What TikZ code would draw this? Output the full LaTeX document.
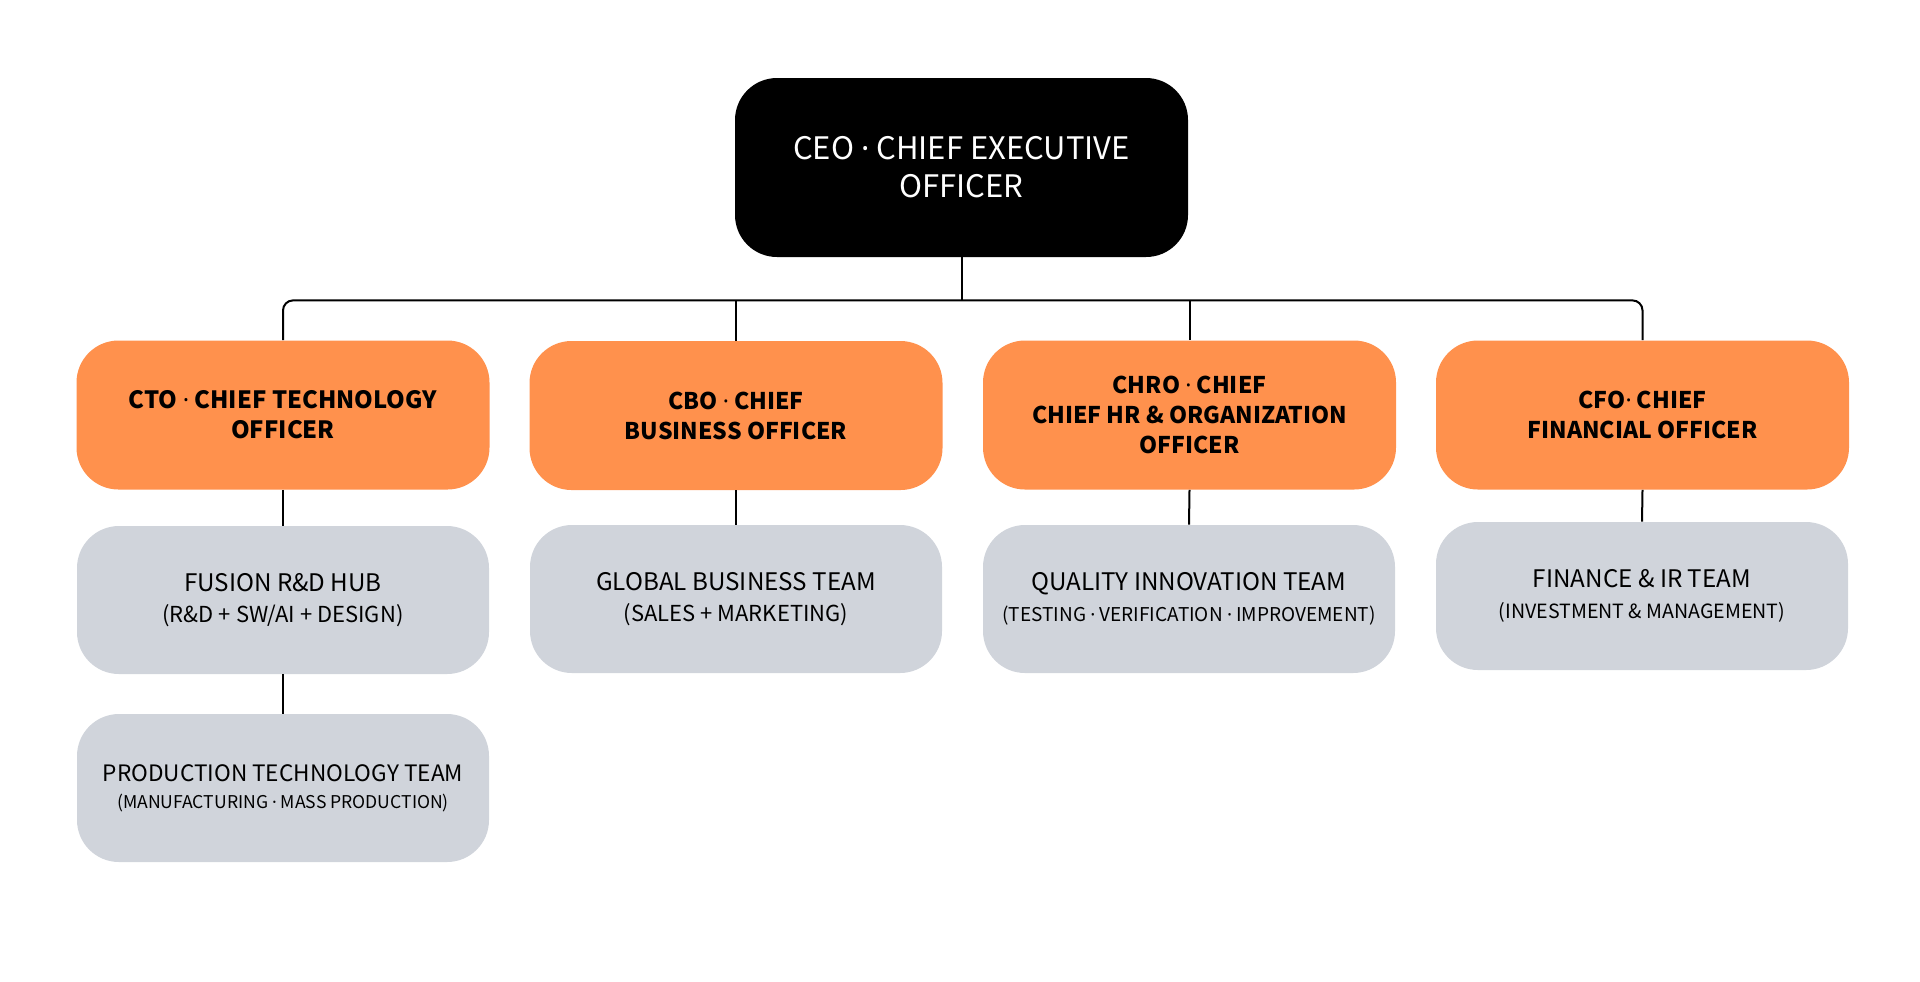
\documentclass[tikz,border=0pt]{standalone}
\usepackage{fontspec}
\setmainfont{Noto Sans CJK KR}
\newfontfamily\dotfont{Noto Sans}
\usepackage{tikz}

\definecolor{chieforange}{HTML}{FF914D}
\definecolor{teamgray}{HTML}{D0D4DB}
\newcommand{\mdot}{{\dotfont ·}}
\newcommand{\teamsub}[2][11]{{\fontsize{#1}{15.5}\selectfont #2}}

\begin{document}
\begin{tikzpicture}[x=0.5pt,y=-0.5pt,
  box/.style={rounded corners=21pt,align=center,inner sep=0pt},
  ceo/.style={box,fill=black,text=white,minimum width=226.5pt,minimum height=89.5pt,font=\fontsize{15.5}{19}\selectfont},
  chief/.style={box,fill=chieforange,minimum width=206.5pt,minimum height=74.5pt,font=\bfseries\fontsize{11.5}{15}\selectfont},
  team/.style={box,fill=teamgray,minimum width=206pt,minimum height=74pt,font=\fontsize{12.1}{15.5}\selectfont},
  link/.style={line width=1pt}]
\useasboundingbox (0,0) rectangle (1920,981);

\node [ceo] (ceo) at (961.5,167.5) {CEO \mdot{} CHIEF EXECUTIVE\\OFFICER};

\node [chief,font=\bfseries\fontsize{11.9}{15}\selectfont] (cto) at (283,415) {CTO \mdot{} CHIEF TECHNOLOGY\\OFFICER};
\node [chief] (cbo) at (736,415.5) {CBO \mdot{} CHIEF\\BUSINESS OFFICER};
\node [chief] (chro) at (1189.5,415) {CHRO \mdot{} CHIEF\\CHIEF HR \& ORGANIZATION\\OFFICER};
\node [chief] (cfo) at (1642.5,415) {CFO\mdot{} CHIEF\\FINANCIAL OFFICER};

\node [team] (fusion) at (283,600) {FUSION R\&D HUB\\\teamsub{(R\&D + SW/AI + DESIGN)}};
\node [team,font=\fontsize{11.3}{13.5}\selectfont] (production) at (283,788)
  {PRODUCTION TECHNOLOGY TEAM\\\teamsub[8.8]{(MANUFACTURING \mdot{} MASS PRODUCTION)}};
\node [team] (global) at (736,599) {GLOBAL BUSINESS TEAM\\\teamsub{(SALES + MARKETING)}};
\node [team] (quality) at (1189,599) {QUALITY INNOVATION TEAM\\\teamsub[9.5]{(TESTING \mdot{} VERIFICATION \mdot{} IMPROVEMENT)}};
\node [team] (finance) at (1642,596) {FINANCE \& IR TEAM\\\teamsub[9.8]{(INVESTMENT \& MANAGEMENT)}};

% CEO to the four chiefs
\draw [link] (ceo.south) -- ++(0,43) coordinate (bus);
\draw [link,rounded corners=5pt] (cto.north) |- (bus) -| (cfo.north);
\draw [link] (cbo.north) -- (cbo.north |- bus);
\draw [link] (chro.north) -- (chro.north |- bus);

% chiefs to teams
\draw [link] (cto.south) -- (fusion.north);
\draw [link] (fusion.south) -- (production.north);
\draw [link] (cbo.south) -- (global.north);
\draw [link] (chro.south) -- (quality.north);
\draw [link] (cfo.south) -- (finance.north);
\end{tikzpicture}
\end{document}
